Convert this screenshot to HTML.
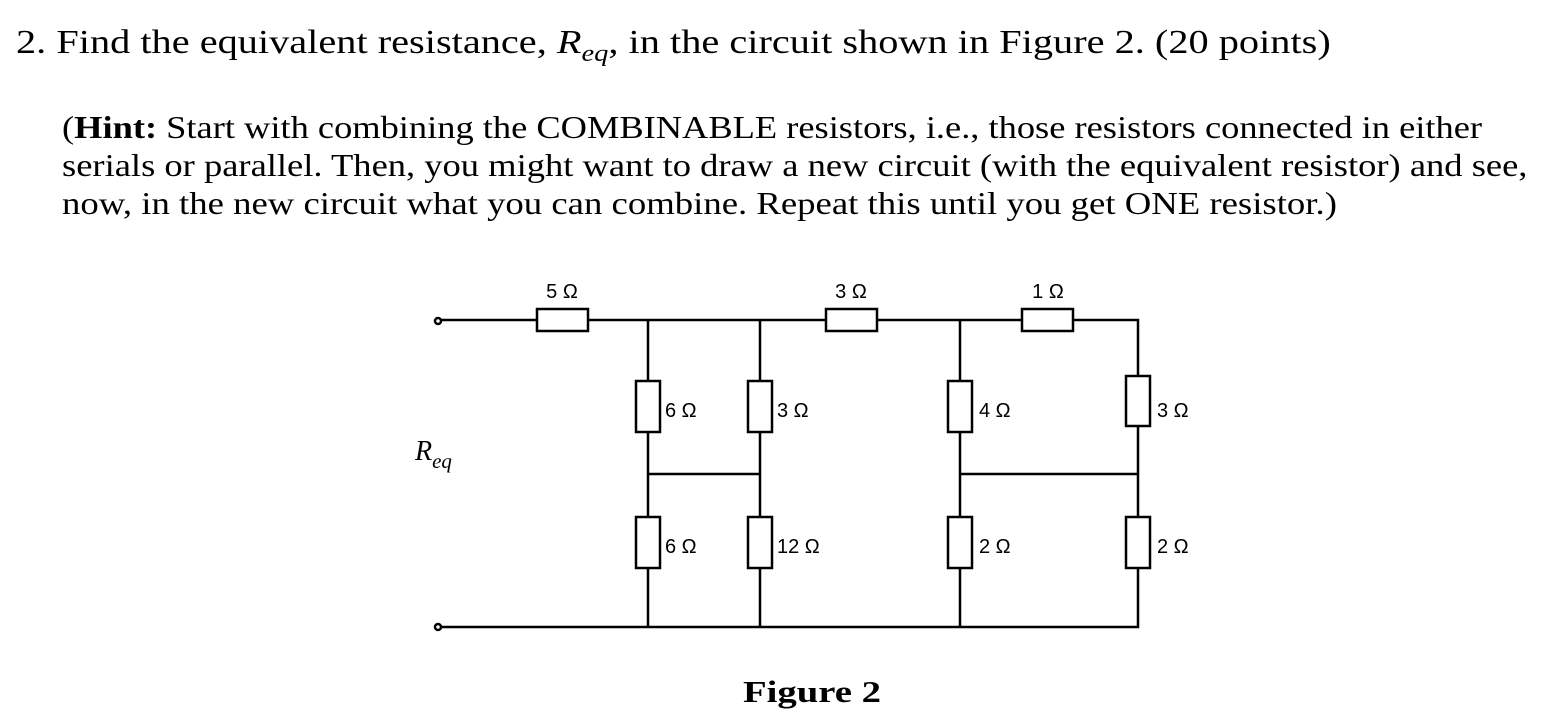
<!DOCTYPE html>
<html><head><style>
body{margin:0;background:#fff;width:1565px;height:715px;overflow:hidden;position:relative;font-family:"Liberation Serif",serif;color:#000}
.t{position:absolute;white-space:nowrap;font-size:32px;transform-origin:0 0}
</style></head><body>
<div class="t" style="left:16px;top:24px;font-size:34px;transform:scaleX(1.186)">2. Find the equivalent resistance, <i>R<sub style="font-size:24px">eq</sub></i>, in the circuit shown in Figure 2. (20 points)</div>
<div class="t" style="left:62px;top:109px;transform:scaleX(1.138)">(<b>Hint:</b> Start with combining the COMBINABLE resistors, i.e., those resistors connected in either</div>
<div class="t" style="left:62px;top:147px;transform:scaleX(1.141)">serials or parallel. Then, you might want to draw a new circuit (with the equivalent resistor) and see,</div>
<div class="t" style="left:62px;top:185px;transform:scaleX(1.148)">now, in the new circuit what you can combine. Repeat this until you get ONE resistor.)</div>
<svg width="1565" height="715" style="position:absolute;left:0;top:0" font-family="Liberation Sans, DejaVu Sans, sans-serif" font-size="20">
<g stroke="#000" stroke-width="2.5" fill="none">
<path d="M441 320H537M588 320H826M877 320H1022M1073 320H1138V376M1138 426V517M1138 568V627H441"/>
<path d="M648 320V381M648 432V517M648 568V627M760 320V381M760 432V517M760 568V627"/>
<path d="M960 320V381M960 432V517M960 568V627"/>
<path d="M648 474H760M960 474H1138"/>
<g fill="#fff">
<circle cx="438" cy="321" r="3"/><circle cx="438" cy="627" r="3"/>
<rect x="537" y="309" width="51" height="22"/><rect x="826" y="309" width="51" height="22"/><rect x="1022" y="309" width="51" height="22"/>
<rect x="636" y="381" width="24" height="51"/><rect x="748" y="381" width="24" height="51"/><rect x="948" y="381" width="24" height="51"/><rect x="1126" y="376" width="24" height="50"/>
<rect x="636" y="517" width="24" height="51"/><rect x="748" y="517" width="24" height="51"/><rect x="948" y="517" width="24" height="51"/><rect x="1126" y="517" width="24" height="51"/>
</g></g>
<g fill="#000">
<text x="562" y="298" text-anchor="middle">5 Ω</text>
<text x="851" y="298" text-anchor="middle">3 Ω</text>
<text x="1048" y="298" text-anchor="middle">1 Ω</text>
<text x="665" y="417">6 Ω</text><text x="777" y="417">3 Ω</text><text x="979" y="417">4 Ω</text><text x="1157" y="417">3 Ω</text>
<text x="665" y="553">6 Ω</text><text x="777" y="553">12 Ω</text><text x="979" y="553">2 Ω</text><text x="1157" y="553">2 Ω</text>
<text x="415" y="460" font-family="Liberation Serif, serif" font-style="italic" font-size="28">R<tspan font-size="21" dy="8">eq</tspan></text>
<text x="812" y="702" text-anchor="middle" font-family="Liberation Serif, serif" font-weight="bold" font-size="31" transform="translate(812 0) scale(1.25 1) translate(-812 0)">Figure 2</text>
</g>
</svg>
</body></html>
